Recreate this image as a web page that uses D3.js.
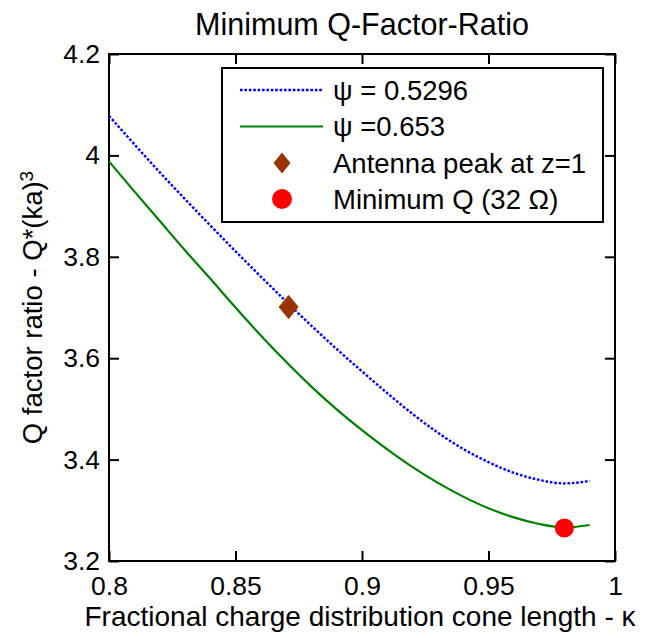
<!DOCTYPE html>
<html>
<head>
<meta charset="utf-8">
<script src="https://cdn.jsdelivr.net/npm/d3@7/dist/d3.min.js"></script>
<style>
  html, body { margin: 0; padding: 0; background: #fff; }
  svg { display: block; }
  text { font-family: "Liberation Sans", Arial, Helvetica, sans-serif; fill: #000; }
</style>
</head>
<body>
<svg id="chart" width="646" height="638"></svg>
<script>
// ---- data ----
const kappa = [0.80, 0.81, 0.82, 0.83, 0.84, 0.85, 0.86, 0.87, 0.88, 0.89,
               0.90, 0.91, 0.92, 0.93, 0.94, 0.95, 0.96, 0.97, 0.98, 0.99];
const qPsi05296 = [4.078, 4.022, 3.967, 3.914, 3.862, 3.811, 3.761, 3.712, 3.664, 3.618,
                   3.574, 3.531, 3.490, 3.453, 3.421, 3.395, 3.374, 3.360, 3.353, 3.358];
const qPsi0653 = [3.988, 3.929, 3.871, 3.813, 3.757, 3.700, 3.645, 3.593, 3.544, 3.499,
                  3.458, 3.420, 3.385, 3.354, 3.327, 3.304, 3.286, 3.273, 3.266, 3.271];
const peakKappa = [0.871];
const peakQ = [3.701];
const minKappa = [0.98];
const minQ = [3.265];
const xTickValues = [0.8, 0.85, 0.9, 0.95, 1.0];
const xTickLabels = ["0.8", "0.85", "0.9", "0.95", "1"];
const yTickValues = [3.2, 3.4, 3.6, 3.8, 4.0, 4.2];
const yTickLabels = ["3.2", "3.4", "3.6", "3.8", "4", "4.2"];
const legendLabels = ["\u03C8 = 0.5296", "\u03C8 =0.653", "Antenna peak at z=1", "Minimum Q (32 \u03A9)"];
const titleText = "Minimum Q-Factor-Ratio";
const xLabelText = "Fractional charge distribution cone length - \u03BA";

// ---- layout ----
const L = 109, R = 615, T = 54, B = 561;
const svg = d3.select("#chart");
const x = d3.scaleLinear().domain([0.8, 1.0]).range([L, R]);
const y = d3.scaleLinear().domain([3.2, 4.2]).range([B, T]);

const tickFont = 26.5;

// axes
function styleAxis(g, showLabels) {
  g.select(".domain").remove();
  g.selectAll(".tick line").attr("stroke", "#000").attr("stroke-width", 2);
  g.selectAll(".tick text").style("font-size", tickFont + "px").attr("fill", "#000");
  if (!showLabels) g.selectAll(".tick text").remove();
}
const xLab = d => xTickLabels[xTickValues.indexOf(d)];
const yLab = d => yTickLabels[yTickValues.indexOf(d)];

svg.append("g").attr("transform", `translate(0,${B})`)
  .call(d3.axisBottom(x).tickValues(xTickValues).tickFormat(xLab).tickSize(-10).tickPadding(15))
  .call(g => styleAxis(g, true));
svg.append("g").attr("transform", `translate(0,${T})`)
  .call(d3.axisTop(x).tickValues(xTickValues).tickSize(-10))
  .call(g => styleAxis(g, false));
svg.append("g").attr("transform", `translate(${L},0)`)
  .call(d3.axisLeft(y).tickValues(yTickValues).tickFormat(yLab).tickSize(-10).tickPadding(9))
  .call(g => styleAxis(g, true));
svg.append("g").attr("transform", `translate(${R},0)`)
  .call(d3.axisRight(y).tickValues(yTickValues).tickSize(-10))
  .call(g => styleAxis(g, false));

// frame
svg.append("rect").attr("x", L).attr("y", T).attr("width", R - L).attr("height", B - T)
  .attr("fill", "none").attr("stroke", "#000").attr("stroke-width", 2);

// lines
const line = d3.line().x(d => x(d[0])).y(d => y(d[1])).curve(d3.curveMonotoneX);
svg.append("path").datum(kappa.map((k, i) => [k, qPsi05296[i]]))
  .attr("d", line).attr("fill", "none").attr("stroke", "#0000ff")
  .attr("stroke-width", 2.4).attr("stroke-dasharray", "2.6,1.8");
svg.append("path").datum(kappa.map((k, i) => [k, qPsi0653[i]]))
  .attr("d", line).attr("fill", "none").attr("stroke", "#008000")
  .attr("stroke-width", 2.2);

// markers
const diamond = (cx, cy, w, h) => `M${cx},${cy - h / 2}L${cx + w / 2},${cy}L${cx},${cy + h / 2}L${cx - w / 2},${cy}Z`;
svg.selectAll(".peak").data(peakKappa).enter().append("path")
  .attr("d", (d, i) => diamond(x(d), y(peakQ[i]), 19, 23))
  .attr("fill", "#993300").attr("stroke", "#993300").attr("stroke-width", 1);
svg.selectAll(".minq").data(minKappa).enter().append("circle")
  .attr("cx", d => x(d)).attr("cy", (d, i) => y(minQ[i])).attr("r", 9.5)
  .attr("fill", "#ff0000");

// legend
const lg = svg.append("g");
lg.append("rect").attr("x", 222).attr("y", 68).attr("width", 381).attr("height", 154)
  .attr("fill", "#fff").attr("stroke", "#000").attr("stroke-width", 2);
const rowY = [90, 126.5, 163, 199];
lg.append("line").attr("x1", 240).attr("x2", 323).attr("y1", rowY[0]).attr("y2", rowY[0])
  .attr("stroke", "#0000ff").attr("stroke-width", 2.4).attr("stroke-dasharray", "2.6,1.8");
lg.append("line").attr("x1", 240).attr("x2", 323).attr("y1", rowY[1]).attr("y2", rowY[1])
  .attr("stroke", "#008000").attr("stroke-width", 2.2);
lg.append("path").attr("d", diamond(282, rowY[2], 17, 21)).attr("fill", "#993300");
lg.append("circle").attr("cx", 282).attr("cy", rowY[3]).attr("r", 10).attr("fill", "#ff0000");
lg.selectAll("text.leg").data(legendLabels).enter().append("text")
  .attr("class", "leg").attr("x", 333).attr("y", (d, i) => rowY[i])
  .attr("dy", "0.36em").style("font-size", "27.5px").text(d => d);

// title & axis labels
svg.append("text").attr("x", (L + R) / 2).attr("y", 35).attr("text-anchor", "middle")
  .style("font-size", "30.5px").text(titleText);
svg.append("text").attr("x", 360).attr("y", 626).attr("text-anchor", "middle")
  .style("font-size", "28px").text(xLabelText);
const yl = svg.append("text").attr("transform", `translate(42,${(T + B) / 2}) rotate(-90)`)
  .attr("text-anchor", "middle").style("font-size", "27.5px");
yl.append("tspan").text("Q factor ratio - Q*(ka)");
yl.append("tspan").attr("dy", "-0.45em").style("font-size", "19px").text("3");
</script>
</body>
</html>
